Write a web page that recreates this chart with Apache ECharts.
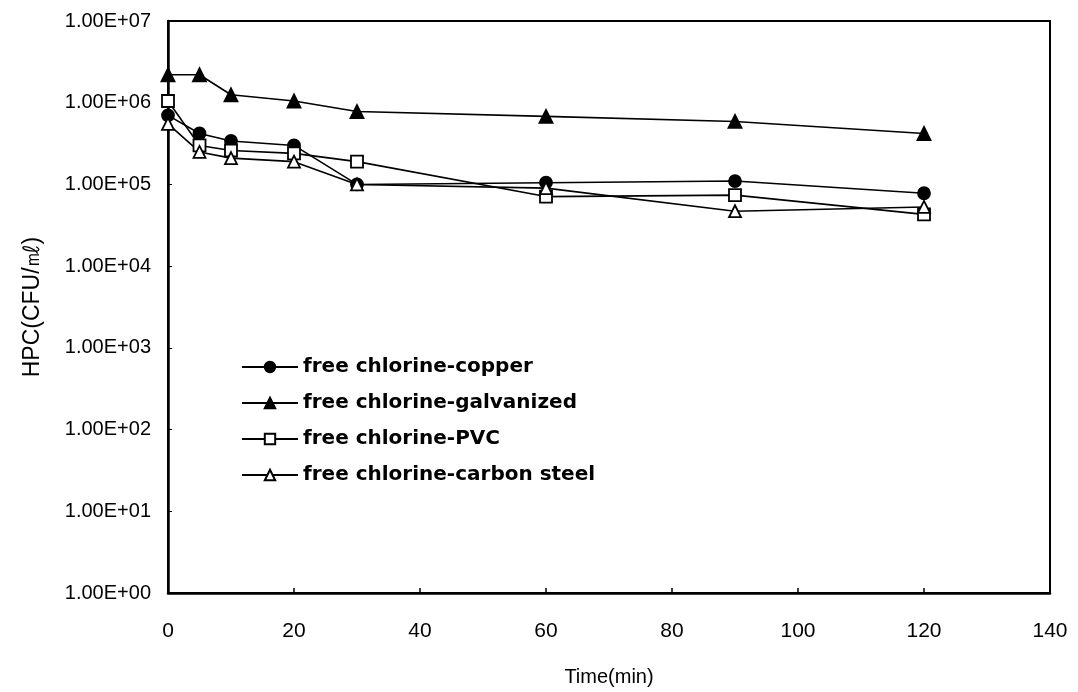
<!DOCTYPE html>
<html>
<head>
<meta charset="utf-8">
<script src="https://cdn.jsdelivr.net/npm/echarts@6/dist/echarts.min.js"></script>
<style>
  html, body { margin: 0; padding: 0; background: #fff; }
  #chart { width: 1078px; height: 692px; }
</style>
</head>
<body>
<div id="chart"></div>
<script>
// Sampling times (min)
const times = [0, 5, 10, 20, 30, 60, 90, 120];

// Heterotrophic plate counts (CFU/mL) per pipe material under free chlorine
const copper      = [7.0e5, 4.2e5, 3.4e5, 3.0e5, 1.0e5, 1.05e5, 1.1e5, 7.8e4];
const galvanized  = [2.2e6, 2.2e6, 1.25e6, 1.05e6, 7.8e5, 6.8e5, 5.9e5, 4.2e5];
const pvc         = [1.05e6, 3.0e5, 2.6e5, 2.4e5, 1.9e5, 7.1e4, 7.4e4, 4.3e4];
const carbonSteel = [5.5e5, 2.5e5, 2.1e5, 1.9e5, 1.0e5, 9.0e4, 4.7e4, 5.3e4];

const seriesNames = [
  'free chlorine-copper',
  'free chlorine-galvanized',
  'free chlorine-PVC',
  'free chlorine-carbon steel'
];

// Tick labels for the log axis, exponent 0..7
const yTickLabels = ['1.00E+00', '1.00E+01', '1.00E+02', '1.00E+03',
                     '1.00E+04', '1.00E+05', '1.00E+06', '1.00E+07'];

const font = '"Liberation Sans", Arial, sans-serif';

function pairs(vals) { return times.map((t, i) => [t, vals[i]]); }

function lineSeries(name, vals, symbol, filled, size) {
  return {
    name: name,
    type: 'line',
    data: pairs(vals),
    symbol: symbol,
    symbolSize: size,
    showAllSymbol: true,
    lineStyle: { color: '#000', width: 1.6 },
    itemStyle: { color: filled ? '#000' : '#fff', borderColor: '#000', borderWidth: 1.8 },
    emphasis: { disabled: true },
    z: 3
  };
}

const chart = echarts.init(document.getElementById('chart'), null, { renderer: 'canvas' });

chart.setOption({
  animation: false,
  backgroundColor: '#fff',
  grid: {
    left: 168, right: 28, top: 21, bottom: 99,
    show: true, borderColor: '#000', borderWidth: 2, backgroundColor: 'transparent'
  },
  legend: {
    orient: 'vertical',
    left: 236, top: 352,
    itemGap: 16,
    itemWidth: 56, itemHeight: 13,
    textStyle: { fontFamily: '"DejaVu Sans", sans-serif', fontSize: 20, color: '#000', fontWeight: 'bold' },
    data: seriesNames
  },
  xAxis: {
    type: 'value',
    min: 0, max: 140, interval: 20,
    name: 'Time(min)',
    nameLocation: 'middle',
    nameGap: 74,
    nameTextStyle: { fontFamily: font, fontSize: 20, color: '#000' },
    axisLine: { lineStyle: { color: '#000', width: 2.5 } },
    axisTick: { inside: true, length: 5, lineStyle: { color: '#000', width: 1.5 } },
    axisLabel: { fontFamily: font, fontSize: 21, color: '#000', margin: 28 },
    splitLine: { show: false }
  },
  yAxis: {
    type: 'log',
    logBase: 10,
    min: 1, max: 1e7,
    name: 'HPC(CFU/㎖)',
    nameLocation: 'middle',
    nameRotate: 90,
    nameGap: 124,
    nameTextStyle: { fontFamily: font, fontSize: 23, color: '#000' },
    axisLine: { lineStyle: { color: '#000', width: 2.5 } },
    axisTick: { inside: true, length: 4, lineStyle: { color: '#000' } },
    axisLabel: {
      fontFamily: font, fontSize: 20, color: '#000', margin: 17,
      formatter: v => yTickLabels[Math.round(Math.log10(v))]
    },
    splitLine: { show: false }
  },
  series: [
    lineSeries(seriesNames[0], copper, 'circle', true, 12),
    lineSeries(seriesNames[1], galvanized, 'triangle', true, 13),
    lineSeries(seriesNames[2], pvc, 'rect', false, 12),
    lineSeries(seriesNames[3], carbonSteel, 'triangle', false, 12)
  ]
});
</script>
</body>
</html>
